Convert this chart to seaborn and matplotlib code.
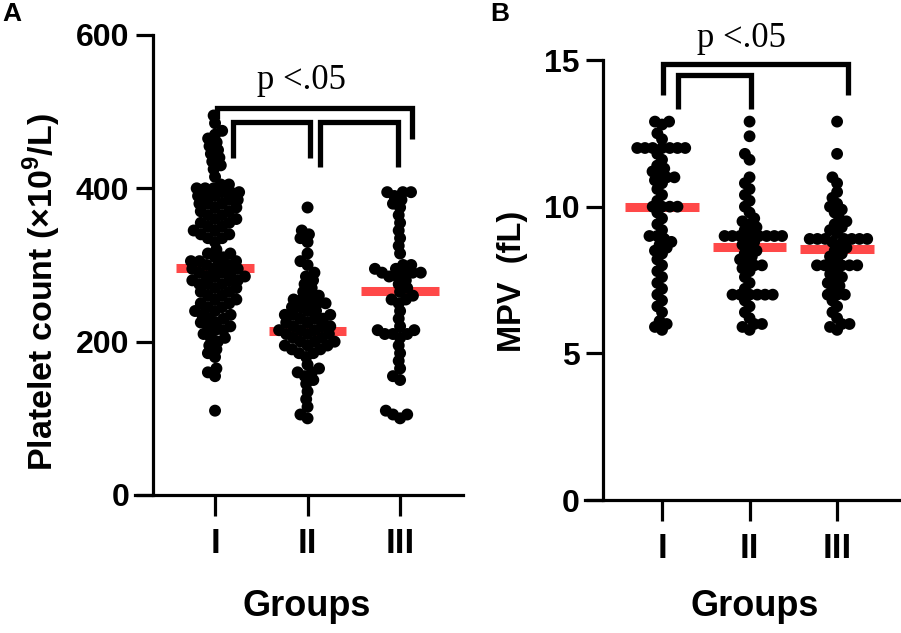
import numpy as np
import pandas as pd
import matplotlib
matplotlib.use("Agg")
import matplotlib.pyplot as plt
import matplotlib.patheffects as pe
from matplotlib.collections import PathCollection
import seaborn as sns

groups = ["I", "II", "III"]

# Platelet count (x10^9/L): value bins and number of dots
plt_I_vals = [495, 485, 475, 470, 465, 460, 455, 450, 445, 440, 435, 430, 425, 415,
              405, 400, 395, 390, 385, 380, 375, 370, 365, 360, 355, 350, 345, 340, 335, 330,
              320, 315, 310, 305, 300, 295, 290, 285, 280, 275, 270, 265, 260, 255, 250,
              245, 240, 235, 230, 225, 220, 215, 210, 205, 200, 195, 190, 185, 180,
              165, 160, 155, 110]
plt_I_cnts = [1, 1, 1, 1, 1, 1, 1, 1, 1, 1, 1, 1, 1, 1,
              2, 3, 3, 3, 2, 3, 2, 2, 2, 2, 2, 2, 2, 2, 2, 1,
              1, 2, 2, 3, 3, 3, 3, 3, 3, 3, 2, 2, 2, 2, 2,
              2, 2, 2, 2, 2, 2, 2, 1, 2, 1, 1, 1, 1, 1,
              1, 1, 1, 1]
plt_II_vals = [375, 345, 340, 335, 330, 315, 305, 300, 290, 285, 280, 275, 270, 265,
               260, 255, 250, 245, 240, 235, 230, 225, 220, 215, 210, 205, 200, 195, 190, 185,
               180, 170, 165, 160, 155, 150, 145, 135, 125, 115, 105, 100]
plt_II_cnts = [1, 1, 1, 1, 1, 1, 1, 1, 1, 1, 1, 1, 1, 1,
               2, 2, 3, 2, 2, 3, 3, 2, 3, 3, 3, 2, 3, 3, 2, 2,
               1, 1, 1, 2, 1, 1, 1, 1, 1, 1, 1, 1]
plt_III_vals = [395, 390, 385, 380, 375, 365, 355, 345, 335, 325, 315,
                300, 295, 290, 285, 280, 275, 270, 265, 260, 255, 250,
                240, 230, 220, 215, 210, 205, 195, 185, 175, 165, 155, 150, 110, 105, 100]
plt_III_cnts = [3, 1, 1, 1, 1, 1, 1, 1, 1, 1, 1,
                2, 2, 4, 2, 1, 1, 1, 1, 1, 2, 1,
                1, 1, 1, 2, 3, 1, 1, 1, 1, 1, 1, 1, 1, 2, 1]
plt_medians = [296, 214, 266]

# MPV (fL)
mpv_I_vals = [12.9, 12.8, 12.5, 12.3, 12.0, 11.8, 11.6, 11.4, 11.3, 11.2, 11.1, 11.0, 10.9,
              10.8, 10.6, 10.4, 10.2, 10.0, 9.8, 9.6, 9.4, 9.2, 9.0, 8.9, 8.8, 8.7, 8.6,
              8.5, 8.4, 8.2, 8.0, 7.8, 7.6, 7.4, 7.2, 7.0, 6.8, 6.6, 6.4, 6.1, 6.0, 5.9, 5.8]
mpv_I_cnts = [2, 1, 1, 1, 7, 1, 1, 1, 1, 1, 1, 2, 1,
              1, 1, 1, 1, 4, 1, 1, 1, 1, 2, 1, 1, 1, 1,
              1, 1, 1, 1, 1, 1, 1, 1, 1, 1, 1, 1, 1, 1, 1, 1]
mpv_II_vals = [12.9, 12.4, 11.8, 11.6, 11.0, 10.8, 10.6, 10.4, 10.2, 10.0, 9.8, 9.6, 9.5,
               9.4, 9.3, 9.2, 9.1, 9.0, 8.9, 8.8, 8.7, 8.6, 8.5, 8.4, 8.3, 8.2, 8.1, 8.0,
               7.9, 7.8, 7.6, 7.4, 7.2, 7.0, 6.8, 6.6, 6.4, 6.2, 6.0, 5.9, 5.8]
mpv_II_cnts = [1, 1, 1, 1, 1, 1, 1, 1, 1, 1, 1, 1, 1,
               1, 1, 1, 1, 7, 1, 1, 1, 1, 1, 1, 1, 1, 1, 2,
               1, 1, 1, 1, 1, 6, 1, 1, 1, 1, 2, 1, 1]
mpv_III_vals = [12.9, 11.8, 11.0, 10.8, 10.5, 10.3, 10.1, 10.0, 9.9, 9.8, 9.6, 9.5, 9.4,
                9.3, 9.2, 9.1, 8.9, 8.8, 8.7, 8.6, 8.5, 8.4, 8.3, 8.2, 8.0, 7.8, 7.7, 7.6,
                7.5, 7.4, 7.3, 7.2, 7.0, 6.8, 6.6, 6.4, 6.2, 6.0, 5.9, 5.8]
mpv_III_cnts = [1, 1, 1, 1, 1, 1, 1, 1, 1, 1, 1, 1, 1,
                1, 1, 1, 7, 1, 1, 1, 1, 1, 1, 1, 6, 1, 1, 1,
                1, 1, 1, 1, 3, 1, 1, 1, 1, 2, 1, 1]
mpv_medians = [10.0, 8.63, 8.56]

# significance brackets: (left x, right x, top y, left leg end, right leg end)
plt_brackets = [(0.02, 2.13, 505, 490, 465), (0.19, 1.03, 486, 439, 439), (1.13, 1.98, 486, 428, 428)]
mpv_brackets = [(0.01, 2.12, 14.86, 13.8, 13.8), (0.18, 1.02, 14.49, 13.33, 13.33)]


def makeFrame(valsList, cntsList):
    frames = []
    for name, vals, cnts in zip(groups, valsList, cntsList):
        frames.append(pd.DataFrame({"group": name, "value": np.repeat(vals, cnts)}))
    return pd.concat(frames, ignore_index=True)


sns.set_style("ticks")
plt.rcParams["font.family"] = ["Liberation Sans", "DejaVu Sans"]
plt.rcParams["font.weight"] = "bold"
plt.rcParams["mathtext.fontset"] = "custom"
plt.rcParams["mathtext.rm"] = "Liberation Sans:bold"
plt.rcParams["mathtext.bf"] = "Liberation Sans:bold"
for key in ["text.color", "axes.labelcolor", "xtick.color", "ytick.color", "axes.edgecolor"]:
    plt.rcParams[key] = "black"

RED = "#ff4848"
fig = plt.figure(figsize=(9.01, 6.33), dpi=100)


def drawPanel(rect, df, medians, brackets, xlim, ylim, yticks, spineX, pText, dot, stroke):
    ax = fig.add_axes(rect)
    ax.set_xlim(*xlim)
    ax.set_ylim(*ylim)
    for i, m in enumerate(medians):
        ax.hlines(m, i - 0.42, i + 0.42, color=RED, lw=6.5, zorder=1)
    sns.swarmplot(data=df, x="group", y="value", order=groups, color="black",
                  size=dot, ax=ax, zorder=2, warn_thresh=1)
    # dots in the original overlap: fatten them without changing the swarm layout
    for c in ax.collections:
        if isinstance(c, PathCollection):
            c.set_path_effects([pe.withStroke(linewidth=stroke, foreground="black")])
    ax.set_xlim(*xlim)
    ax.set_ylim(*ylim)
    for x0, x1, top, y0, y1 in brackets:
        ax.plot([x0, x0, x1, x1], [y0, top, top, y1], color="black", lw=3.8,
                solid_joinstyle="miter", solid_capstyle="butt", clip_on=False, zorder=4)
    ax.text(pText[0], pText[1], "p <.05", family="Liberation Serif", fontweight="normal",
            fontsize=25, ha="center", va="baseline", clip_on=False)
    ax.set_yticks(yticks)
    ax.set_xlabel("")
    ax.set_ylabel("")
    for s in ["top", "right"]:
        ax.spines[s].set_visible(False)
    ax.spines["left"].set_position(("data", spineX))
    for s in ["left", "bottom"]:
        ax.spines[s].set_linewidth(2.3)
    ax.tick_params(axis="x", length=15, width=2.3, pad=8, labelsize=25)
    ax.tick_params(axis="y", length=12, width=2.3, pad=5, labelsize=23)
    return ax


dfA = makeFrame([plt_I_vals, plt_II_vals, plt_III_vals], [plt_I_cnts, plt_II_cnts, plt_III_cnts])
dfB = makeFrame([mpv_I_vals, mpv_II_vals, mpv_III_vals], [mpv_I_cnts, mpv_II_cnts, mpv_III_cnts])

drawPanel([135 / 901, 1 - 495 / 633, 328 / 901, 460 / 633], dfA, plt_medians, plt_brackets,
          (-0.865, 2.68), (0, 600), [0, 200, 400, 600], -0.67, (0.93, 529), 5.6, 3.0)
drawPanel([585 / 901, 1 - 500 / 633, 316 / 901, 440 / 633], dfB, mpv_medians, mpv_brackets,
          (-0.88, 2.73), (0, 15), [0, 5, 10, 15], -0.674, (0.91, 15.45), 5.3, 3.2)

fig.text(42 / 901, 1 - 292 / 633, "Platelet count (×10$^{\\mathbf{9}}$/L)", rotation=90,
         ha="center", va="center", fontsize=24.5, fontweight="bold")
fig.text(512 / 901, 1 - 281 / 633, "MPV  (fL)", rotation=90,
         ha="center", va="center", fontsize=23.5, fontweight="bold")
fig.text(307 / 901, 1 - 607 / 633, "Groups", ha="center", va="center", fontsize=26, fontweight="bold")
fig.text(755 / 901, 1 - 607 / 633, "Groups", ha="center", va="center", fontsize=26, fontweight="bold")
fig.text(2 / 901, 1 - 2 / 633, "A", ha="left", va="top", fontsize=19, fontweight="bold")
fig.text(490 / 901, 1 - 2 / 633, "B", ha="left", va="top", fontsize=19, fontweight="bold")

fig.savefig("out.png", dpi=100)
